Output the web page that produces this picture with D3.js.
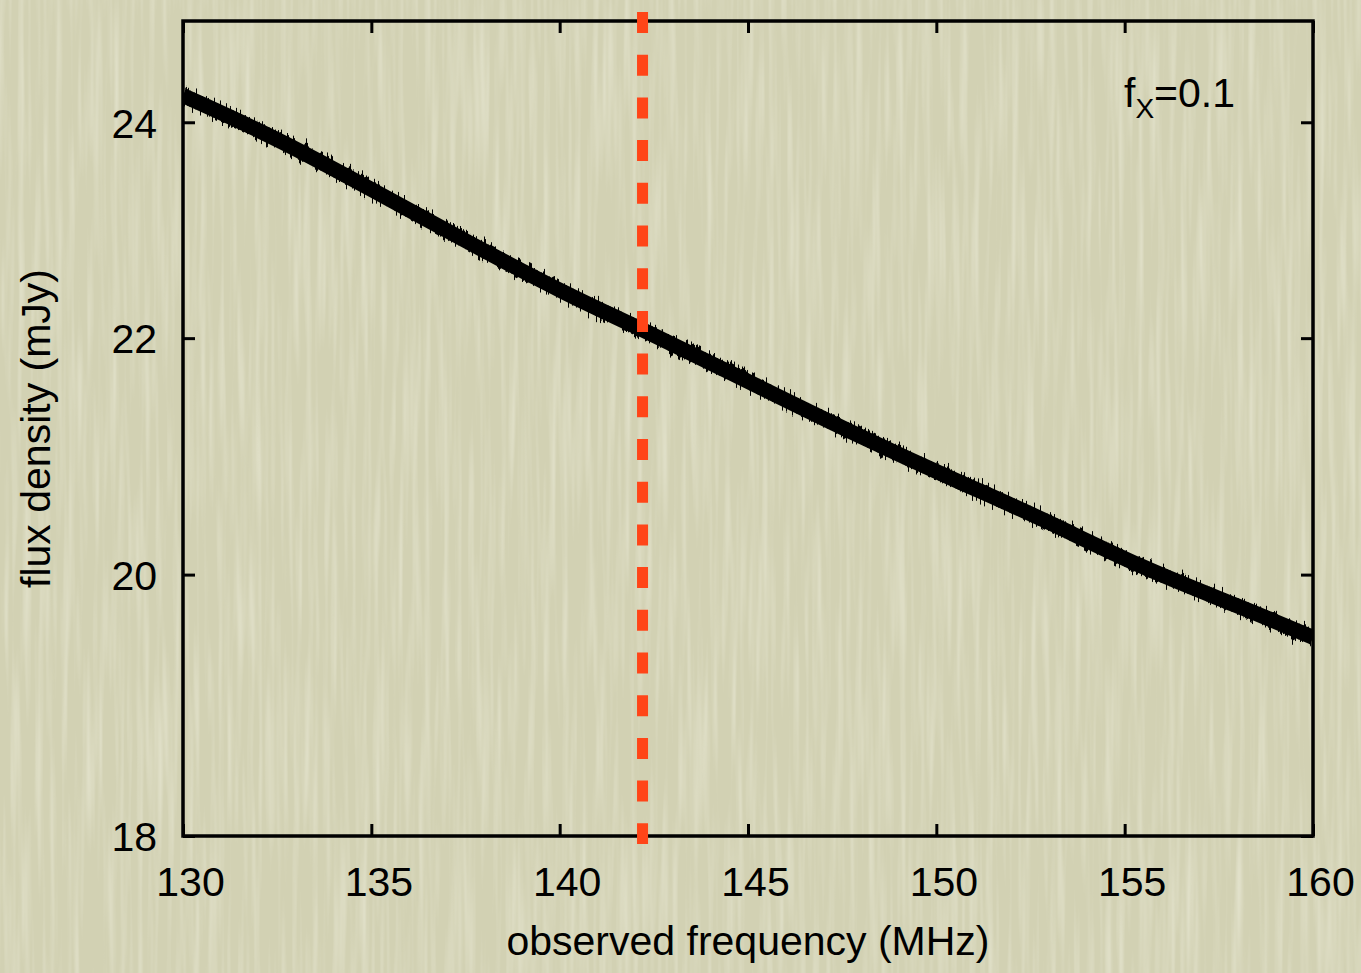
<!DOCTYPE html>
<html>
<head>
<meta charset="utf-8">
<script src="https://cdn.jsdelivr.net/npm/d3@7"></script>
<style>
  html, body { margin: 0; padding: 0; background: #d4d3b6; }
  svg { display: block; }
  text { font-family: "Liberation Sans", Arial, Helvetica, sans-serif; fill: #000; }
</style>
</head>
<body>
<svg id="chart" width="1361" height="973"></svg>
<script>
// values
const freqs = [130.0, 132.6, 135.2, 137.6, 140.3, 142.2, 145.3, 148.0, 150.6, 152.8, 155.4, 158.1, 160.0];
const flux  = [24.26, 23.83, 23.32, 22.86, 22.37, 22.08, 21.57, 21.14, 20.76, 20.46, 20.06, 19.74, 19.50];
const xTicks = [130, 135, 140, 145, 150, 155, 160];
const yTicks = [18, 20, 22, 24];
const markerFreq = 142.2;   // dashed red line
const xLabel = "observed frequency (MHz)";
const yLabel = "flux density (mJy)";

const width = 1361, height = 973;
const margin = {top: 21, right: 48, bottom: 137, left: 183};
const fontSize = 41;

let svg = d3.select("#chart");
let defs = svg.append("defs");

// paper texture for the background, fine vertical streaks
let paper = defs.append("filter").attr("id", "paper")
  .attr("x", 0).attr("y", 0).attr("width", 1).attr("height", 1);
paper.append("feTurbulence")
  .attr("type", "fractalNoise")
  .attr("baseFrequency", "0.16 0.006")
  .attr("numOctaves", 2)
  .attr("seed", 4)
  .attr("result", "noise");
paper.append("feColorMatrix")
  .attr("in", "noise")
  .attr("type", "matrix")
  .attr("values", "0 0 0 0 1  0 0 0 0 1  0 0 0 0 0.92  0.7 0 0 0 -0.3");

// rough edge for the noisy spectrum (only moves pixels up/down)
let rough = defs.append("filter").attr("id", "rough")
  .attr("filterUnits", "userSpaceOnUse")
  .attr("x", 0).attr("y", 0).attr("width", width).attr("height", height);
rough.append("feTurbulence")
  .attr("type", "fractalNoise")
  .attr("baseFrequency", "0.5 0.01")
  .attr("numOctaves", 1)
  .attr("seed", 7)
  .attr("result", "n");
rough.append("feColorMatrix")
  .attr("in", "n")
  .attr("type", "matrix")
  .attr("values", "0 0 0 0 0.5  0 1 0 0 0  0 0 0 0 0  0 0 0 0 1")
  .attr("result", "m");
rough.append("feDisplacementMap")
  .attr("in", "SourceGraphic")
  .attr("in2", "m")
  .attr("scale", 26)
  .attr("xChannelSelector", "R")
  .attr("yChannelSelector", "G");

svg.append("rect").attr("width", width).attr("height", height).attr("fill", "#d2d1b3");
svg.append("rect").attr("width", width).attr("height", height).attr("filter", "url(#paper)");

let x = d3.scaleLinear().domain([130, 160]).range([margin.left, width - margin.right]);
let y = d3.scaleLog().domain([18, 25]).range([height - margin.bottom, margin.top]);

defs.append("clipPath").attr("id", "plotclip")
  .append("rect")
  .attr("x", x(130)).attr("y", y(25))
  .attr("width", x(160) - x(130)).attr("height", y(18) - y(25));

// the spectrum
let points = freqs.map((f, i) => ({f: f, s: flux[i]}));
let line = d3.line().x(d => x(d.f)).y(d => y(d.s)).curve(d3.curveBasis);

let spec = svg.append("g").attr("clip-path", "url(#plotclip)");
spec.append("path")
  .datum(points)
  .attr("d", line)
  .attr("fill", "none")
  .attr("stroke", "#000")
  .attr("stroke-width", 13)
  .attr("filter", "url(#rough)");
// solid core so the band keeps its width
spec.append("path")
  .datum(points)
  .attr("d", line)
  .attr("fill", "none")
  .attr("stroke", "#000")
  .attr("stroke-width", 15);

// axes, ticks pointing inwards on all four sides
let gx = svg.append("g").attr("transform", "translate(0," + y(18) + ")")
  .call(d3.axisBottom(x).tickValues(xTicks).tickSize(-12).tickPadding(0));
let gxTop = svg.append("g").attr("transform", "translate(0," + y(25) + ")")
  .call(d3.axisTop(x).tickValues(xTicks).tickSize(-12).tickFormat(""));
let gy = svg.append("g").attr("transform", "translate(" + x(130) + ",0)")
  .call(d3.axisLeft(y).tickValues(yTicks).tickSize(-12).tickPadding(26).tickFormat(d3.format("d")));
let gyRight = svg.append("g").attr("transform", "translate(" + x(160) + ",0)")
  .call(d3.axisRight(y).tickValues(yTicks).tickSize(-12).tickFormat(""));

[gx, gxTop, gy, gyRight].forEach(g => {
  g.select(".domain").remove();
  g.selectAll(".tick line").attr("stroke", "#000").attr("stroke-width", 3);
  g.selectAll(".tick text").attr("font-size", fontSize).attr("font-family", null);
});
gx.selectAll(".tick text").attr("y", 60).attr("dy", 0).attr("x", 7);
gy.selectAll(".tick text").attr("dy", "0.36em");

// frame
svg.append("rect")
  .attr("x", x(130)).attr("y", y(25))
  .attr("width", x(160) - x(130)).attr("height", y(18) - y(25))
  .attr("fill", "none").attr("stroke", "#000").attr("stroke-width", 3.5);

// dashed marker line, pokes a bit out of the frame
svg.append("line")
  .attr("x1", x(markerFreq)).attr("x2", x(markerFreq))
  .attr("y1", y(25) - 9).attr("y2", y(18) + 8)
  .attr("stroke", "#ff4518")
  .attr("stroke-width", 11)
  .attr("stroke-dasharray", "21 21.7");

// labels
svg.append("text")
  .attr("x", (x(130) + x(160)) / 2)
  .attr("y", 955)
  .attr("text-anchor", "middle")
  .attr("font-size", fontSize)
  .text(xLabel);

svg.append("text")
  .attr("transform", "translate(50," + (y(18) + y(25)) / 2 + ") rotate(-90)")
  .attr("text-anchor", "middle")
  .attr("font-size", fontSize)
  .text(yLabel);

let note = svg.append("text").attr("x", 1124).attr("y", 107).attr("font-size", fontSize);
note.append("tspan").text("f");
note.append("tspan").attr("font-size", 28).attr("dy", 11).text("X");
note.append("tspan").attr("dy", -11).text("=0.1");
</script>
</body>
</html>
